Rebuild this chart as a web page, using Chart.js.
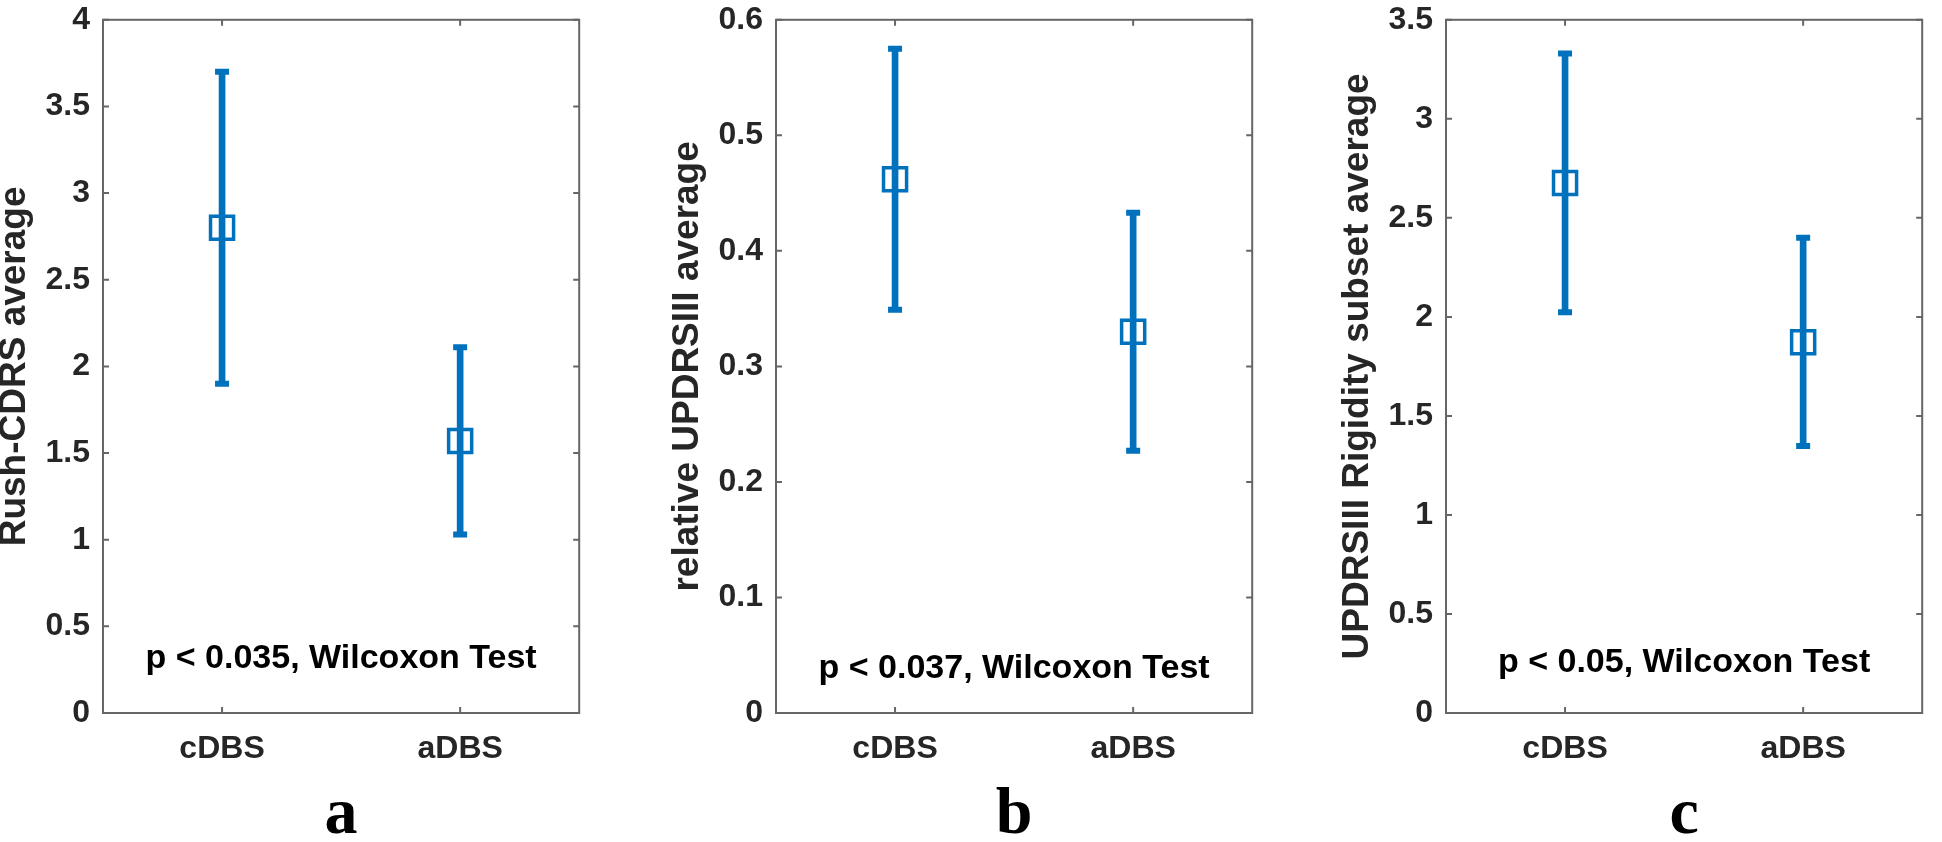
<!DOCTYPE html>
<html>
<head>
<meta charset="utf-8">
<title>cDBS vs aDBS - Wilcoxon</title>
<script src="https://cdn.jsdelivr.net/npm/chart.js@4.4.1/dist/chart.umd.min.js"></script>
<style>
  html, body { margin: 0; padding: 0; background: #fff; overflow: hidden; }
  #figure { position: relative; width: 1942px; height: 842px; }
  .panel { position: absolute; top: 0; width: 606px; height: 842px; }
</style>
</head>
<body>
<div id="figure">
  <div class="panel" id="panelA"><canvas id="chartA" width="606" height="842"></canvas></div>
  <div class="panel" id="panelB"><canvas id="chartB" width="606" height="842"></canvas></div>
  <div class="panel" id="panelC"><canvas id="chartC" width="606" height="842"></canvas></div>
</div>
<script>
// groups on the x axis
const groups = ['cDBS', 'aDBS'];

// panel a - Rush-CDRS average (mean, lower / upper end of bar)
const rushMean = [2.80, 1.57];
const rushLow = [1.90, 1.03];
const rushHigh = [3.70, 2.11];

// panel b - relative UPDRSIII average
const updrsMean = [0.462, 0.330];
const updrsLow = [0.349, 0.227];
const updrsHigh = [0.575, 0.433];

// panel c - UPDRSIII rigidity subset average
const rigidMean = [2.676, 1.872];
const rigidLow = [2.023, 1.348];
const rigidHigh = [3.33, 2.40];

// axis settings per panel
const yTitles = ['Rush-CDRS average', 'relative UPDRSIII average', 'UPDRSIII Rigidity subset average'];
const yMax = [4, 0.6, 3.5];
const yStep = [0.5, 0.1, 0.5];
const panelLetters = ['a', 'b', 'c'];

// significance note, baseline given in y-axis units
const pTexts = ['p < 0.035, Wilcoxon Test', 'p < 0.037, Wilcoxon Test', 'p < 0.05, Wilcoxon Test'];
const pTextY = [0.257, 0.030, 0.205];

const BLUE = '#0072BD';
const AXIS_GRAY = '#666666';
const TEXT_DARK = '#262626';
const SANS = "'Liberation Sans', Arial, Helvetica, sans-serif";
const SERIF = "'Liberation Serif', 'Times New Roman', serif";

// left edge of each plot box in the page; the y axis strip is 110px wide
const plotLefts = [103, 776, 1446];
const Y_AXIS_W = 110;

// MATLAB style box: frame on all four sides + inward ticks
const axesBox = {
    id: 'axesBox',
    afterDatasetsDraw(chart) {
        const { ctx, chartArea: a, scales: { x, y } } = chart;
        const tick = 6;
        ctx.save();
        ctx.strokeStyle = AXIS_GRAY;
        ctx.lineWidth = 2;
        ctx.strokeRect(a.left, a.top, a.right - a.left, a.bottom - a.top);
        ctx.beginPath();
        y.ticks.forEach(t => {
            const py = y.getPixelForValue(t.value);
            ctx.moveTo(a.left, py); ctx.lineTo(a.left + tick, py);
            ctx.moveTo(a.right, py); ctx.lineTo(a.right - tick, py);
        });
        x.ticks.forEach((t, i) => {
            const px = x.getPixelForTick(i);
            ctx.moveTo(px, a.bottom); ctx.lineTo(px, a.bottom - tick);
            ctx.moveTo(px, a.top); ctx.lineTo(px, a.top + tick);
        });
        ctx.stroke();
        ctx.restore();
    }
};

// text placed inside the axes, centred horizontally
const pText = {
    id: 'pText',
    afterDatasetsDraw(chart, args, opts) {
        const { ctx, chartArea: a, scales: { y } } = chart;
        ctx.save();
        ctx.font = `bold ${opts.size}px ${SANS}`;
        ctx.fillStyle = '#000';
        ctx.textAlign = 'center';
        ctx.textBaseline = 'alphabetic';
        ctx.fillText(opts.text, (a.left + a.right) / 2, y.getPixelForValue(opts.y));
        ctx.restore();
    }
};

function makePanel(canvasId, idx, means, lows, highs) {
    const holder = document.getElementById(canvasId).parentElement;
    holder.style.left = (plotLefts[idx] - Y_AXIS_W) + 'px';

    return new Chart(document.getElementById(canvasId), {
        type: 'bar',
        data: {
            labels: groups,
            datasets: [
                {
                    // mean marker, open square
                    type: 'line',
                    data: means,
                    showLine: false,
                    pointStyle: 'rect',
                    pointRadius: 16.3,
                    pointBorderWidth: 3.5,
                    pointBorderColor: BLUE,
                    pointBackgroundColor: 'rgba(0,0,0,0)',
                    order: 0
                },
                {
                    // upper caps
                    type: 'line',
                    data: highs,
                    showLine: false,
                    pointStyle: 'line',
                    pointRadius: 7,
                    pointBorderWidth: 6,
                    pointBorderColor: BLUE,
                    order: 1
                },
                {
                    // lower caps
                    type: 'line',
                    data: lows,
                    showLine: false,
                    pointStyle: 'line',
                    pointRadius: 7,
                    pointBorderWidth: 6,
                    pointBorderColor: BLUE,
                    order: 1
                },
                {
                    // vertical error bar as a floating bar
                    type: 'bar',
                    data: groups.map((_, i) => [lows[i], highs[i]]),
                    backgroundColor: BLUE,
                    borderWidth: 0,
                    barThickness: 6,
                    order: 2
                }
            ]
        },
        options: {
            responsive: false,
            animation: false,
            events: [],
            layout: { padding: { top: 12, right: 1, left: 0, bottom: 0 } },
            plugins: {
                legend: { display: false },
                tooltip: { enabled: false },
                pText: { text: pTexts[idx], y: pTextY[idx], size: 34 }
            },
            scales: {
                x: {
                    offset: true,
                    grid: { display: false, drawTicks: false },
                    border: { display: false },
                    ticks: {
                        color: TEXT_DARK,
                        font: { family: SANS, size: 32, weight: 'bold' },
                        padding: 17,
                        maxRotation: 0
                    },
                    title: {
                        display: true,
                        text: panelLetters[idx],
                        color: '#000',
                        font: { family: SERIF, size: 66, weight: 'bold', lineHeight: 0.8 },
                        padding: 0
                    },
                    afterFit: s => {
                        s.height = 129;
                        s.paddingLeft = 0;
                        s.paddingRight = 0;
                    }
                },
                y: {
                    min: 0,
                    max: yMax[idx],
                    grid: { display: false, drawTicks: false },
                    border: { display: false },
                    ticks: {
                        stepSize: yStep[idx],
                        color: TEXT_DARK,
                        font: { family: SANS, size: 32, weight: 'bold' },
                        padding: 13,
                        callback: v => String(Number(v.toFixed(2)))
                    },
                    title: {
                        display: true,
                        text: yTitles[idx],
                        color: TEXT_DARK,
                        font: { family: SANS, size: 37, weight: 'bold' },
                        padding: { top: 0, bottom: 0 }
                    },
                    afterFit: s => {
                        s.width = Y_AXIS_W;
                        s.paddingTop = 0;
                        s.paddingBottom = 0;
                    }
                }
            }
        },
        plugins: [axesBox, pText]
    });
}

makePanel('chartA', 0, rushMean, rushLow, rushHigh);
makePanel('chartB', 1, updrsMean, updrsLow, updrsHigh);
makePanel('chartC', 2, rigidMean, rigidLow, rigidHigh);
</script>
</body>
</html>
